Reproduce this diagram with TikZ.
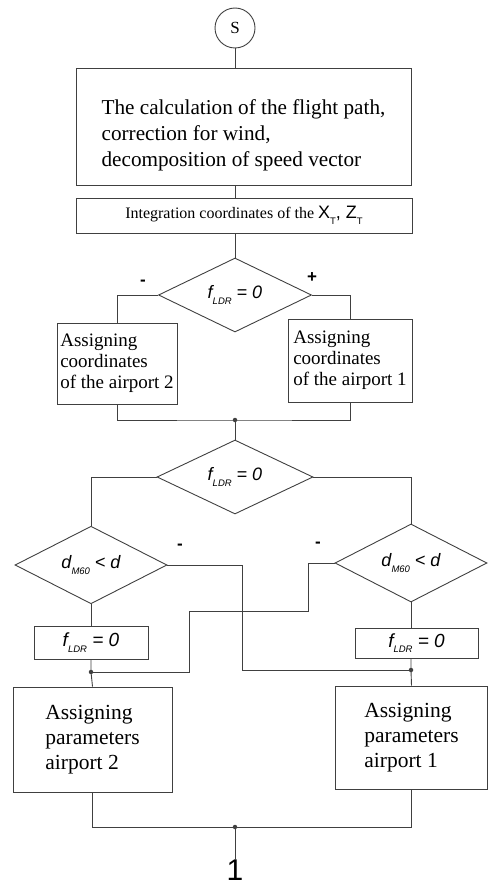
\documentclass[tikz,border=0pt]{standalone}
\usepackage{fontspec}
\setmainfont{Liberation Serif}
\setsansfont{Liberation Sans}
\usetikzlibrary{shapes.geometric}
\newcommand{\lowsub}[1]{\raisebox{-0.3em}{\fontsize{9.5}{10}\selectfont #1}}
\newcommand{\fLDR}{{\sffamily\itshape f\lowsub{LDR} = 0}}
\newcommand{\dMsixty}{{\sffamily\itshape d\lowsub{M60} < d}}
\begin{document}
\begin{tikzpicture}[x=1pt, y=-1pt, lineStyle/.style={draw=black!75, line width=0.9pt}, boxStyle/.style={rectangle, lineStyle, align=left, inner sep=0pt}, decisionStyle/.style={diamond, lineStyle, inner sep=0pt, font=\fontsize{18}{20}\selectfont}, startStyle/.style={circle, lineStyle, minimum size=40pt, inner sep=0pt, font=\fontsize{17}{18}\selectfont}, signStyle/.style={inner sep=0pt, font=\sffamily\bfseries\fontsize{17}{17}\selectfont}, dotStyle/.style={circle, fill=black!75, minimum size=4.5pt, inner sep=0pt}]
                    \useasboundingbox (0, 0) rectangle (488, 888);

                    \node[startStyle](start) at (235, 28) {S};
                    \node[boxStyle, minimum width=335, minimum height=117, text height=84pt, font=\fontsize{21.2}{26}\selectfont] (calc) at (243.5, 126.5) {The calculation of the flight path,\\correction for wind,\\decomposition of speed vector};
                    \node[boxStyle, minimum width=336, minimum height=35, font=\fontsize{16}{18}\selectfont] (integ) at (244, 215.5) {Integration coordinates of the {\sffamily\fontsize{18}{18}\selectfont X\lowsub{T}, Z\lowsub{T}}};

                    \node[decisionStyle, minimum width=153, minimum height=74] (cond1) at (235, 295) {\fLDR};
                    \node[signStyle] (cond1_minus) at (143, 283) {-};
                    \node[signStyle] (cond1_plus)  at (312, 278) {+};

                    \node[boxStyle, minimum width=120, minimum height=81, font=\fontsize{19}{21}\selectfont] (coordTwo) at (117, 363.5) {Assigning\\coordinates\\of the airport 2};
                    \node[boxStyle, minimum width=124, minimum height=83, font=\fontsize{19}{21}\selectfont] (coordOne) at (350, 360.5) {Assigning\\coordinates\\of the airport 1};

                    \node[dotStyle] (joinA) at (235, 420) {};
                    \node[decisionStyle, minimum width=156, minimum height=74] (cond2) at (235, 477) {\fLDR};

                    \node[decisionStyle, minimum width=152, minimum height=76] (distTwo) at (91, 565) {\dMsixty};
                    \node[decisionStyle, minimum width=152, minimum height=78] (distOne) at (411, 563) {\dMsixty};
                    \node[signStyle] (distTwo_minus) at (180, 547) {-};
                    \node[signStyle] (distOne_minus) at (318, 545) {-};

                    \node[boxStyle, minimum width=114, minimum height=33, font=\fontsize{19}{20}\selectfont] (flagTwo) at (91, 642.5) {\fLDR};
                    \node[boxStyle, minimum width=123, minimum height=30, font=\fontsize{19}{20}\selectfont] (flagOne) at (416.5, 643) {\fLDR};

                    \node[dotStyle] (joinL) at (91, 672) {};
                    \node[dotStyle] (joinR) at (411, 670) {};
                    \coordinate (crossL) at (242, 670);
                    \coordinate (stepA)  at (308, 611);
                    \coordinate (stepB)  at (189, 672);

                    \node[boxStyle, minimum width=159, minimum height=105, font=\fontsize{21.5}{25}\selectfont] (paramTwo) at (92.5, 739.5) {Assigning\\parameters\\airport 2};
                    \node[boxStyle, minimum width=152, minimum height=103, font=\fontsize{21.5}{25}\selectfont] (paramOne) at (411.5, 737.5) {Assigning\\parameters\\airport 1};

                    \node[dotStyle] (joinB) at (235, 827) {};
                    \node[inner sep=0pt, anchor=north, font=\sffamily\fontsize{30}{30}\selectfont] (finish) at (235, 860) {1};

                    \draw[lineStyle] (start.south) -- (start.south |- calc.north);
                    \draw[lineStyle] (start.south |- calc.south) -- (start.south |- integ.north);
                    \draw[lineStyle] (start.south |- integ.south) -- (cond1.north);

                    \draw[lineStyle] (cond1.west) -| (coordTwo.north);
                    \draw[lineStyle] (cond1.east) -| (coordOne.north);
                    \draw[lineStyle] (coordTwo.south) |- (joinA.center) -| (coordOne.south);
                    \draw[lineStyle] (joinA.center) -- (cond2.north);

                    \draw[lineStyle] (cond2.west) -| (distTwo.north);
                    \draw[lineStyle] (cond2.east) -| (distOne.north);

                    \draw[lineStyle] (distTwo.south) -- (flagTwo.north);
                    \draw[lineStyle] (distOne.south) -- (distOne.south |- flagOne.north);
                    \draw[lineStyle] (flagTwo.south) -- (joinL.center) -- (paramTwo.north);
                    \draw[lineStyle] (distOne.south |- flagOne.south) -- (joinR.center) -- (paramOne.north);

                    \draw[lineStyle] (distTwo.east) -| (crossL) -- (joinR.center);
                    \draw[lineStyle] (distOne.west) -| (stepA) -| (stepB) -- (joinL.center);

                    \draw[lineStyle] (paramTwo.south) |- (joinB.center) -| (paramOne.south);
                    \draw[lineStyle] (joinB.center) -- (finish.north);
                \end{tikzpicture}
\end{document}
